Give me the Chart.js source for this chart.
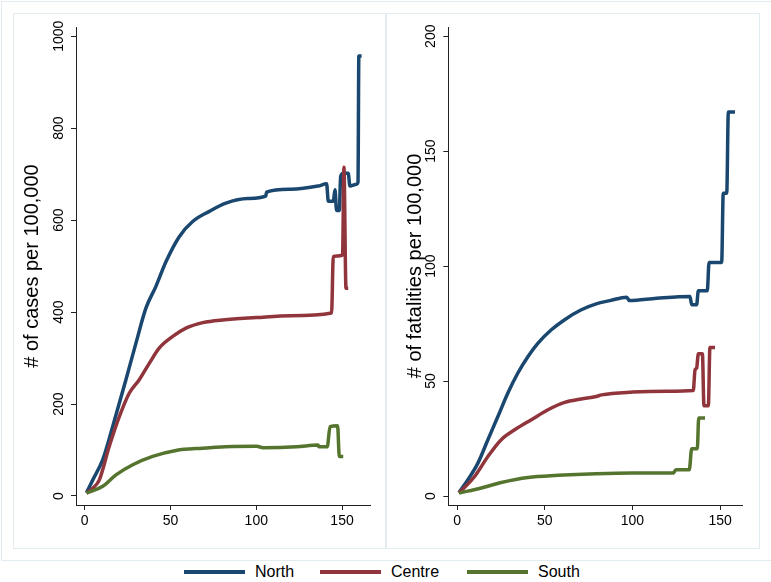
<!DOCTYPE html>
<html>
<head>
<meta charset="utf-8">
<script src="https://cdn.jsdelivr.net/npm/chart.js@4.4.1/dist/chart.umd.min.js"></script>
<style>
  body { margin: 0; background: #fff; font-family: 'Liberation Sans', Arial, sans-serif; }
  #wrap { position: relative; width: 771px; height: 582px; overflow: hidden; }
  .box { position: absolute; border: 1px solid #e2ebef; box-sizing: border-box; }
  .panel { position: absolute; top: 0; height: 548px; }
  .key { position: absolute; top: 560px; height: 24px; display: flex; align-items: center; font-size: 16px; color: #000; }
  .key span.sw { display: inline-block; width: 61px; height: 4px; margin-right: 10px; }
</style>
</head>
<body>
<div id="wrap">
  <div class="box" style="left:1px;top:1px;width:771px;height:560px;"></div>
  <div class="box" style="left:13px;top:13px;width:374px;height:536px;"></div>
  <div class="box" style="left:385px;top:13px;width:375px;height:536px;"></div>
  <div class="panel" style="left:0;width:386px;"><canvas id="cases"></canvas></div>
  <div class="panel" style="left:386px;width:385px;"><canvas id="deaths"></canvas></div>
  <div id="legend"></div>
</div>
<script>
// Cumulative cases / fatalities per 100,000 by macro-region, by day since first case

const X_TICKS = [0, 50, 100, 150];
const CASE_TICKS = [0, 200, 400, 600, 800, 1000];
const DEATH_TICKS = [0, 50, 100, 150, 200];

const REGIONS = ['North', 'Centre', 'South'];
const COLORS = ['#1a476f', '#90353b', '#55752f'];

// cases per 100,000
const northCaseDays = [1, 4.7, 10.5, 16.3, 24, 29.9, 35.7, 41.5, 47.4, 55.1, 62.9, 72.6, 82.3, 95, 105.5, 106, 120, 136, 141, 142, 144.9, 145.9, 146.8, 148.4, 149.2, 150.7, 153.6, 154.6, 158.5, 159.3, 159.8, 161.4];
const northCases = [7, 35, 79, 151, 253, 333, 409, 456, 510, 564, 597, 619, 637, 647, 652, 661, 667, 674, 679, 641, 641, 666, 621, 621, 695, 702, 702, 674, 678, 682, 957, 957];

const centreCaseDays = [1, 4.7, 8.5, 14.3, 20.2, 26, 31.8, 37.7, 43.5, 51.3, 59, 68.8, 80.4, 100, 120, 143.9, 144.9, 150.3, 151.1, 152.3, 153.6];
const centreCases = [6, 17, 35, 108, 173, 224, 253, 289, 322, 347, 365, 377, 383, 388, 392, 398, 521, 524, 715, 452, 452];

const southCaseDays = [1, 10.5, 18.2, 28, 39.6, 53.2, 68.8, 82.3, 100.2, 104, 123.5, 136, 136.5, 141.4, 143, 147.4, 148.4, 150.7];
const southCases = [6, 21, 46, 68, 86, 99, 104, 107, 108, 105, 107, 111, 107, 107, 151, 153, 86, 86];

// fatalities per 100,000
const northDeathDays = [1, 6.1, 11.8, 17.5, 23.2, 28.9, 34.6, 40.4, 46.1, 53.7, 61.3, 70.8, 79.3, 87.2, 96.7, 98.2, 113.8, 132.8, 133.8, 136.6, 137.6, 142.7, 143.7, 150.9, 151.8, 153.8, 154.7, 158.5];
const northDeaths = [1.5, 7.1, 14.3, 24.5, 34.6, 44.8, 53.5, 60.7, 66.5, 72.3, 76.7, 81, 83.6, 85, 86.5, 85, 86, 86.8, 83.2, 83.2, 89.3, 89.3, 101.6, 101.6, 131.7, 131.7, 167, 167];

const centreDeathDays = [1, 9.9, 17.5, 25.1, 32.8, 42.3, 51.8, 61.3, 70.8, 79.3, 82.4, 100, 120, 134.7, 135.7, 136.6, 137.6, 139.9, 140.8, 143.3, 144.2, 147.1];
const centreDeaths = [1.3, 8.5, 17.2, 24.5, 28.8, 33.2, 37.5, 40.7, 42.2, 43.3, 44, 45.2, 45.6, 45.9, 54.9, 55.6, 61.9, 61.9, 39.3, 39.3, 64.6, 64.6];

const southDeathDays = [1, 13.7, 25.1, 40.4, 57.5, 79.3, 100, 123.3, 124.8, 132.4, 133.8, 137, 137.8, 141.4];
const southDeaths = [1.3, 3.5, 5.9, 8.1, 9, 9.7, 10, 10, 11.4, 11.4, 20.6, 20.6, 33.9, 33.9];

const FONT = "'Liberation Sans', Arial, sans-serif";

function toPoints(days, vals) {
  return days.map((d, i) => ({ x: d, y: vals[i] }));
}

function makeDatasets(series) {
  return series.map((s, i) => ({
    label: REGIONS[i],
    data: toPoints(s[0], s[1]),
    borderColor: COLORS[i],
    borderWidth: 3.5,
    borderJoinStyle: 'round',
    pointRadius: 0,
    cubicInterpolationMode: 'monotone',
    fill: false,
    order: 3 - i,
  }));
}

// y tick labels in Stata style: rotated, reading bottom to top
const rotatedYTicks = {
  id: 'rotatedYTicks',
  afterDraw(chart, args, opts) {
    const s = chart.scales.y;
    const ctx = chart.ctx;
    ctx.save();
    ctx.font = '14px ' + FONT;
    ctx.fillStyle = '#000';
    ctx.textAlign = 'center';
    ctx.textBaseline = 'middle';
    s.ticks.forEach(t => {
      ctx.save();
      ctx.translate(s.right - opts.offset, s.getPixelForValue(t.value));
      ctx.rotate(-Math.PI / 2);
      ctx.fillText(String(t.value), 0, 0);
      ctx.restore();
    });
    ctx.restore();
  }
};

function makeChart(id, cfg) {
  return new Chart(document.getElementById(id), {
    type: 'line',
    data: { datasets: makeDatasets(cfg.series) },
    plugins: [rotatedYTicks],
    options: {
      responsive: true,
      maintainAspectRatio: false,
      animation: false,
      layout: { padding: { left: 0, top: 27, right: cfg.padRight, bottom: 0 } },
      plugins: {
        legend: { display: false },
        tooltip: { enabled: false },
        rotatedYTicks: { offset: cfg.labelOffset },
      },
      scales: {
        x: {
          type: 'linear',
          min: cfg.xMin,
          max: cfg.xMax,
          afterBuildTicks: s => { s.ticks = X_TICKS.map(v => ({ value: v })); },
          afterFit: s => { s.height = 43; },
          border: { display: true, color: '#222', width: 1 },
          grid: { drawOnChartArea: false, drawTicks: true, tickLength: 5, color: '#222' },
          ticks: { color: '#000', padding: 3, maxRotation: 0, font: { size: 14, family: FONT } },
        },
        y: {
          type: 'linear',
          min: cfg.yMin,
          max: cfg.yMax,
          afterBuildTicks: s => { s.ticks = cfg.yTicks.map(v => ({ value: v })); },
          afterFit: s => { s.width = cfg.axisWidth; },
          border: { display: true, color: '#222', width: 1 },
          grid: { drawOnChartArea: false, drawTicks: true, tickLength: 5, color: '#222' },
          ticks: { display: false },
          title: {
            display: true,
            text: cfg.title,
            color: '#000',
            padding: { top: cfg.titlePad, bottom: 0 },
            font: { size: 20, family: FONT },
          },
        },
      },
    },
  });
}

makeChart('cases', {
  series: [[northCaseDays, northCases], [centreCaseDays, centreCases], [southCaseDays, southCases]],
  title: '# of cases per 100,000',
  yTicks: CASE_TICKS,
  xMin: -5.1, xMax: 166.3,
  yMin: -19.6, yMax: 1020,
  axisWidth: 76, padRight: 16, titlePad: 20, labelOffset: 17,
});

makeChart('deaths', {
  series: [[northDeathDays, northDeaths], [centreDeathDays, centreDeaths], [southDeathDays, southDeaths]],
  title: '# of fatalities per 100,000',
  yTicks: DEATH_TICKS,
  xMin: -5.1, xMax: 162.9,
  yMin: -3.9, yMax: 204,
  axisWidth: 62.3, padRight: 28.3, titlePad: 17, labelOffset: 17.5,
});

// shared legend below both panels
const legendLeft = [184, 320, 467];
const legend = document.getElementById('legend');
REGIONS.forEach((name, i) => {
  const item = document.createElement('div');
  item.className = 'key';
  item.style.left = legendLeft[i] + 'px';
  item.innerHTML = `<span class="sw" style="background:${COLORS[i]}"></span>${name}`;
  legend.appendChild(item);
});
</script>
</body>
</html>
